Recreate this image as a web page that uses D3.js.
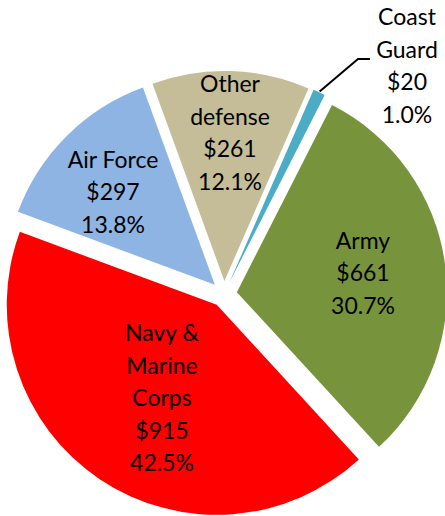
<!DOCTYPE html>
<html>
<head>
<meta charset="utf-8">
<script src="https://cdn.jsdelivr.net/npm/d3@7"></script>
<style>
  body { margin: 0; background: #fff; }
  text { font-family: Lato, "Open Sans", sans-serif; font-size: 23px; fill: #000; }
</style>
</head>
<body>
<script>
var w = 445;
var h = 516;

// budget by component (billions), clockwise from the first slice
var names = ["Coast Guard", "Army", "Navy & Marine Corps", "Air Force", "Other defense"];
var values = [20, 661, 915, 297, 261];
var shares = ["1.0%", "30.7%", "42.5%", "13.8%", "12.1%"];
var labelLines = [["Coast", "Guard"], ["Army"], ["Navy &", "Marine", "Corps"], ["Air Force"], ["Other", "defense"]];
var colors = ["#4BACC6", "#77933C", "#FF0000", "#8EB4E3", "#C4BD97"];

var cx = 224, cy = 294;
var r = 210;
var explode = 13;
var lineH = 32.5;

// label centres, relative to the pie centre
var labelAt = {
    "Coast Guard": [183, -228],
    "Army": [139, -21],
    "Navy & Marine Corps": [-62, 104],
    "Air Force": [-111, -102],
    "Other defense": [6, -161]
};

var svg = d3.select("body")
    .append("svg")
    .attr("width", w)
    .attr("height", h);

var a0 = 23.6 * Math.PI / 180;
var pie = d3.pie()
    .sort(null)
    .startAngle(a0)
    .endAngle(a0 + 2 * Math.PI);

var arcs = pie(values);

var arc = d3.arc()
    .innerRadius(0)
    .outerRadius(r);

function dir(d) {
    var m = (d.startAngle + d.endAngle) / 2;
    return [Math.sin(m), -Math.cos(m)];
}

var g = svg.append("g").attr("transform", "translate(" + cx + "," + cy + ")");

g.selectAll("path")
    .data(arcs)
    .enter()
    .append("path")
    .attr("d", arc)
    .attr("fill", function(d, i) { return colors[i]; })
    .attr("transform", function(d) {
        var v = dir(d);
        return "translate(" + (v[0] * explode) + "," + (v[1] * explode) + ")";
    });

// leader line for the thin Coast Guard slice
var v0 = dir(arcs[0]);
var p0 = [v0[0] * (r + explode + 1), v0[1] * (r + explode + 1)];
g.append("polyline")
    .attr("points", [p0, [134, -235], [146, -235]].map(function(p) { return p.join(","); }).join(" "))
    .attr("fill", "none")
    .attr("stroke", "#000")
    .attr("stroke-width", 2);

arcs.forEach(function(d, i) {
    var lines = labelLines[i].concat(["$" + values[i], shares[i]]);
    var lx = labelAt[names[i]][0];
    var ly = labelAt[names[i]][1];
    var t = g.append("text")
        .attr("text-anchor", "middle")
        .attr("x", lx)
        .attr("y", ly - (lines.length - 1) * lineH / 2);
    t.selectAll("tspan")
        .data(lines)
        .enter()
        .append("tspan")
        .attr("x", lx)
        .attr("dy", function(s, j) { return j == 0 ? "0.35em" : lineH; })
        .text(function(s) { return s; });
});
</script>
</body>
</html>
